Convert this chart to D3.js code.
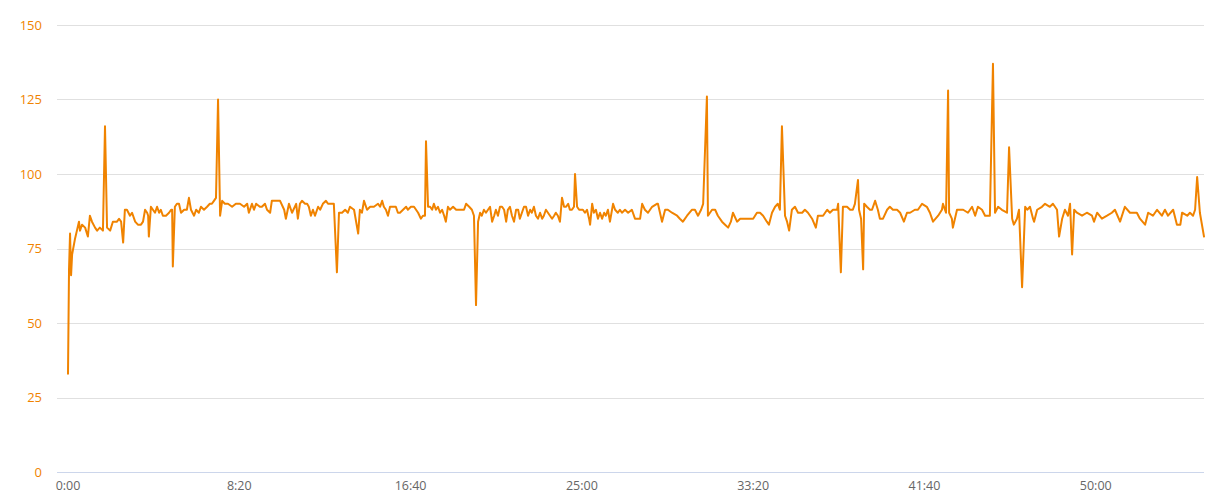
<!DOCTYPE html>
<html>
<head>
<meta charset="utf-8">
<script src="https://cdn.jsdelivr.net/npm/d3@7"></script>
<style>
  html, body { margin: 0; padding: 0; background: #ffffff; }
  svg { display: block; }
  text { font-family: "Open Sans", "Noto Sans", sans-serif; }
</style>
</head>
<body>
<svg id="chart" width="1206" height="494"></svg>
<script>
// ---- data: [elapsed seconds, value] ----
const segmentA = [[0,33],[3,68],[6,80],[9,66],[12,73],[20,78],[26,81],[32,84],[35,81],[41,83],[50,82],[58,79],[64,86],[70,84],[79,82],[85,81],[93,82],[102,81],[108,116],[114,82],[123,81],[131,84],[143,84],[149,85],[155,84],[161,77],[166,88],[172,88],[181,86],[187,87],[196,84],[204,83],[213,83],[219,84],[225,88],[231,87],[234,86],[236,79],[242,89],[248,88],[254,87],[260,89],[266,87],[271,88],[277,86],[286,86],[295,87],[301,88],[304,88],[306,69],[312,89],[318,90],[324,90],[330,87],[339,88],[347,88],[353,92],[359,88],[368,86],[374,88],[382,87],[388,89],[397,88],[406,89],[414,90],[420,90],[426,91],[432,92],[438,125],[444,86],[450,91],[458,90],[467,90],[479,89],[490,90],[502,90],[514,89],[523,90],[528,87],[537,90],[543,88],[549,90],[560,89],[566,89],[575,90],[581,88],[590,87],[595,91],[610,91],[619,91],[631,88],[636,85],[645,90],[654,87],[666,90],[671,85],[677,90],[683,91],[692,90],[698,90],[703,89],[709,86],[715,88],[721,86],[730,89],[736,88],[744,90],[753,91],[759,90],[768,90],[776,90],[785,67],[791,87],[800,87],[809,88]];
const segmentB = [[817,87],[823,89],[835,88],[847,80],[852,88],[858,87],[864,91],[873,88],[882,89],[893,89],[905,90],[911,89],[917,91],[922,89],[928,88],[934,86],[940,89],[949,89],[957,89],[963,87],[969,87],[978,88],[987,89],[992,88],[1001,89],[1010,89],[1022,87],[1030,85],[1036,86],[1042,86],[1045,111],[1051,89],[1057,89],[1063,88],[1068,90],[1074,88],[1080,89],[1086,87],[1092,88],[1098,86],[1103,84],[1109,89],[1115,88],[1124,89],[1133,88],[1144,88],[1156,88],[1162,90],[1171,89],[1179,88],[1185,86],[1191,56],[1197,84],[1203,87],[1208,86],[1214,88],[1220,87],[1226,88],[1232,89],[1238,84],[1244,86],[1249,88],[1255,86],[1261,89],[1267,89],[1273,88],[1279,84],[1284,88],[1290,89],[1296,86],[1302,84],[1308,88],[1314,88],[1319,85],[1325,87],[1331,89],[1337,89],[1343,86],[1349,88],[1354,87],[1360,89],[1366,86],[1372,85],[1378,87],[1384,85],[1389,86],[1395,88],[1401,87],[1407,86],[1413,85],[1419,86],[1424,87],[1430,86],[1436,84],[1442,92],[1448,89],[1454,89],[1460,90],[1465,88],[1471,88],[1477,89],[1480,100],[1486,89],[1492,88],[1497,88],[1503,88],[1509,87],[1515,88],[1521,85],[1524,83],[1530,90],[1535,87],[1541,88],[1547,85],[1553,87],[1559,85],[1565,87],[1570,86],[1576,88],[1582,84],[1591,90],[1597,88],[1605,87],[1611,88],[1617,87]];
const segmentC = [[1626,88],[1635,87],[1646,88],[1655,85],[1670,85],[1676,90],[1684,88],[1693,87],[1705,89],[1719,90],[1722,90],[1734,84],[1743,88],[1751,88],[1763,87],[1778,86],[1786,85],[1795,84],[1807,86],[1821,88],[1830,88],[1839,86],[1848,88],[1854,90],[1865,126],[1868,86],[1880,88],[1889,88],[1897,86],[1909,84],[1918,83],[1927,82],[1935,84],[1941,87],[1953,84],[1962,85],[1970,85],[1982,85],[1991,85],[2000,85],[2011,87],[2020,87],[2029,86],[2040,84],[2046,83],[2055,87],[2064,89],[2072,90],[2078,88],[2084,116],[2093,86],[2099,84],[2105,81],[2113,88],[2122,89],[2131,87],[2143,87],[2151,88],[2160,87],[2172,85],[2183,82],[2189,86],[2204,86],[2216,88],[2224,87],[2233,88],[2245,88],[2248,90],[2256,67],[2262,89],[2274,89],[2283,88],[2291,88],[2297,90],[2306,98],[2309,88],[2315,85],[2321,68],[2324,90],[2332,89],[2341,88],[2347,88],[2356,91],[2364,88],[2370,85],[2379,85],[2391,88],[2399,89],[2408,88],[2420,88],[2429,87],[2440,84],[2449,87]];
const segmentD = [[2458,87],[2472,88],[2481,88],[2493,90],[2507,89],[2516,87],[2525,84],[2540,86],[2551,88],[2554,90],[2563,87],[2569,128],[2572,87],[2580,85],[2583,82],[2595,88],[2613,88],[2627,87],[2639,89],[2648,86],[2656,89],[2668,88],[2677,86],[2691,86],[2700,137],[2706,87],[2715,89],[2726,88],[2741,87],[2747,109],[2756,85],[2761,83],[2770,85],[2776,88],[2785,62],[2794,89],[2800,88],[2808,89],[2817,85],[2820,84],[2829,88],[2843,89],[2852,90],[2866,89],[2875,90],[2887,88],[2893,79],[2902,85],[2910,88],[2919,86],[2925,90],[2931,73],[2937,88],[2945,87],[2960,86],[2974,87],[2989,86],[2995,84],[3004,87],[3018,85],[3033,86],[3047,87],[3056,88],[3071,84],[3085,89],[3100,87],[3120,87],[3129,85],[3144,83],[3153,87],[3167,86],[3179,88],[3193,86],[3202,88],[3211,86],[3226,88],[3237,83],[3247,83],[3252,87],[3267,86],[3275,87],[3284,86],[3290,88],[3296,99],[3304,87],[3316,79]];
const yTicks = [0, 25, 50, 75, 100, 125, 150];
const xTicks = [0, 500, 1000, 1500, 2000, 2500, 3000]; // seconds

const points = segmentA.concat(segmentB, segmentC, segmentD);

const W = 1206, H = 494;
const plotLeft = 57, plotRight = 1204, plotTop = 25, plotBottom = 472;
const lineColor = "#f08300";

const svg = d3.select("#chart");

// x: domain padded so 0:00 sits slightly inside the plot edge
const pxPerSec = (1096 - 68) / 3000;
const xMin = -(68 - plotLeft) / pxPerSec;
const xMax = 3316 + (plotRight - 1204) / pxPerSec;
const x = d3.scaleLinear().domain([xMin, xMax]).range([plotLeft, plotRight]);
const y = d3.scaleLinear().domain([0, 150]).range([plotBottom, plotTop]);

// gridlines
svg.append("g").selectAll("line")
  .data(yTicks.filter(d => d !== 0))
  .enter().append("line")
  .attr("x1", plotLeft).attr("x2", plotRight)
  .attr("y1", d => Math.round(y(d)) + 0.5).attr("y2", d => Math.round(y(d)) + 0.5)
  .attr("stroke", "#e0e0e0").attr("stroke-width", 1);

// baseline axis line
svg.append("line")
  .attr("x1", plotLeft).attr("x2", plotRight)
  .attr("y1", Math.round(y(0)) + 0.5).attr("y2", Math.round(y(0)) + 0.5)
  .attr("stroke", "#ccd6eb").attr("stroke-width", 1);

// y labels
svg.append("g").selectAll("text")
  .data(yTicks).enter().append("text")
  .attr("x", 42).attr("y", d => y(d))
  .attr("dy", "0.35em")
  .attr("text-anchor", "end")
  .attr("font-size", 13)
  .attr("fill", lineColor)
  .text(d => d);

// x labels
const fmt = s => Math.floor(s / 60) + ":" + String(s % 60).padStart(2, "0");
svg.append("g").selectAll("text")
  .data(xTicks).enter().append("text")
  .attr("x", d => x(d)).attr("y", 490)
  .attr("text-anchor", "middle")
  .attr("font-size", 12.5)
  .attr("fill", "#666666")
  .text(d => fmt(d));

// series line
const line = d3.line().x(d => x(d[0])).y(d => y(d[1])).curve(d3.curveLinear);
svg.append("path")
  .datum(points)
  .attr("d", line)
  .attr("fill", "none")
  .attr("stroke", lineColor)
  .attr("stroke-width", 2)
  .attr("stroke-linejoin", "round")
  .attr("stroke-linecap", "round");
</script>
</body>
</html>
